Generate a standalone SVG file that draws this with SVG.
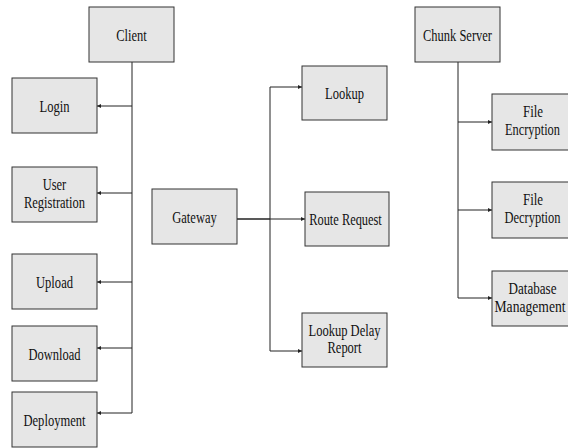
<svg xmlns="http://www.w3.org/2000/svg" width="568" height="448" viewBox="0 0 568 448">
<style>
.box{fill:#e6e6e6;stroke:#333;stroke-width:1}
.t{font-family:'Liberation Serif',serif;font-size:16px;fill:#111;text-anchor:middle}
.c{fill:none;stroke:#222;stroke-width:1}
</style>
<defs>
<marker id="ah" viewBox="0 0 6 6" refX="6" refY="3" markerWidth="4" markerHeight="4" orient="auto" markerUnits="userSpaceOnUse">
<path d="M0,0 L6,3 L0,6 z" fill="#222"/>
</marker>
</defs>
<rect width="568" height="448" fill="#fff"/>
<g id="connectors">
<path class="c" d="M132,62 V413"/>
<path class="c" d="M132,106 H97" marker-end="url(#ah)"/>
<path class="c" d="M132,193 H97" marker-end="url(#ah)"/>
<path class="c" d="M132,282 H97" marker-end="url(#ah)"/>
<path class="c" d="M132,348 H97" marker-end="url(#ah)"/>
<path class="c" d="M132,413 H97" marker-end="url(#ah)"/>
<path class="c" d="M237,219 H270" style="stroke-width:1.6"/>
<path class="c" d="M270,219 H305" marker-end="url(#ah)"/>
<path class="c" d="M270,87 V351"/>
<path class="c" d="M270,87 H302" marker-end="url(#ah)"/>
<path class="c" d="M270,351 H302" marker-end="url(#ah)"/>
<path class="c" d="M458,62 V298"/>
<path class="c" d="M458,122 H492" marker-end="url(#ah)"/>
<path class="c" d="M458,210 H492" marker-end="url(#ah)"/>
<path class="c" d="M458,298 H492" marker-end="url(#ah)"/>
</g>
<g id="client"><rect class="box" x="89" y="7" width="85" height="55"/><text class="t" x="131.5" y="41" textLength="30.5" lengthAdjust="spacingAndGlyphs">Client</text></g>
<g id="login"><rect class="box" x="12" y="78" width="85" height="55"/><text class="t" x="54.5" y="111.5" textLength="30" lengthAdjust="spacingAndGlyphs">Login</text></g>
<g id="user-registration"><rect class="box" x="12" y="167" width="85" height="55"/><text class="t" x="54.5" y="190" textLength="23.5" lengthAdjust="spacingAndGlyphs">User</text><text class="t" x="54.5" y="207.5" textLength="61" lengthAdjust="spacingAndGlyphs">Registration</text></g>
<g id="upload"><rect class="box" x="12" y="254" width="85" height="55"/><text class="t" x="54.5" y="287.5" textLength="37" lengthAdjust="spacingAndGlyphs">Upload</text></g>
<g id="download"><rect class="box" x="12" y="326" width="85" height="55"/><text class="t" x="54.5" y="359.5" textLength="52" lengthAdjust="spacingAndGlyphs">Download</text></g>
<g id="deployment"><rect class="box" x="12" y="392" width="85" height="55"/><text class="t" x="54.5" y="425.5" textLength="62" lengthAdjust="spacingAndGlyphs">Deployment</text></g>
<g id="gateway"><rect class="box" x="152" y="189" width="85" height="55"/><text class="t" x="194.5" y="222.5" textLength="44.5" lengthAdjust="spacingAndGlyphs">Gateway</text></g>
<g id="lookup"><rect class="box" x="302" y="66" width="85" height="54"/><text class="t" x="344.5" y="99" textLength="39" lengthAdjust="spacingAndGlyphs">Lookup</text></g>
<g id="route-request"><rect class="box" x="305" y="192" width="84" height="54"/><text class="t" x="345.5" y="225" textLength="72.5" lengthAdjust="spacingAndGlyphs">Route Request</text></g>
<g id="lookup-delay-report"><rect class="box" x="302" y="313" width="85" height="54"/><text class="t" x="344.5" y="335.5" textLength="72" lengthAdjust="spacingAndGlyphs">Lookup Delay</text><text class="t" x="344.5" y="353" textLength="34" lengthAdjust="spacingAndGlyphs">Report</text></g>
<g id="chunk-server"><rect class="box" x="415" y="7" width="85" height="55"/><text class="t" x="457.5" y="41" textLength="69" lengthAdjust="spacingAndGlyphs">Chunk Server</text></g>
<g id="file-encryption"><rect class="box" x="492" y="94" width="85" height="56"/><text class="t" x="533" y="117" textLength="20" lengthAdjust="spacingAndGlyphs">File</text><text class="t" x="532.5" y="135" textLength="55" lengthAdjust="spacingAndGlyphs">Encryption</text></g>
<g id="file-decryption"><rect class="box" x="492" y="182" width="85" height="56"/><text class="t" x="533" y="205" textLength="20" lengthAdjust="spacingAndGlyphs">File</text><text class="t" x="532.5" y="223" textLength="56" lengthAdjust="spacingAndGlyphs">Decryption</text></g>
<g id="database-management"><rect class="box" x="492" y="271" width="85" height="55"/><text class="t" x="532.5" y="293.5" textLength="48" lengthAdjust="spacingAndGlyphs">Database</text><text class="t" x="530" y="311.5" textLength="71" lengthAdjust="spacingAndGlyphs">Management</text></g>
</svg>
